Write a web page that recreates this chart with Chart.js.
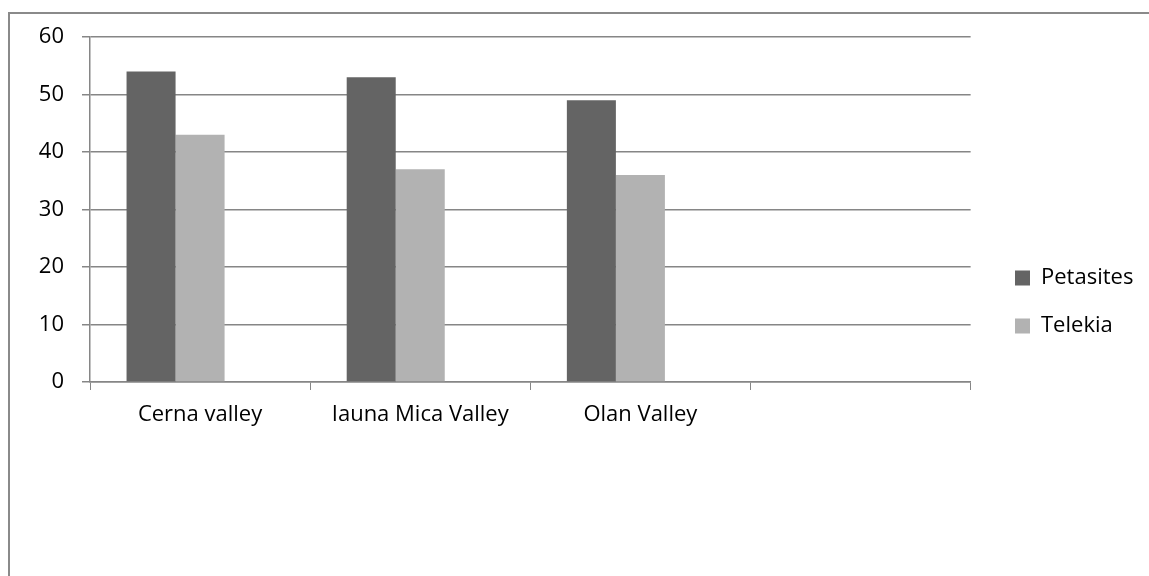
<!DOCTYPE html>
<html>
<head>
<meta charset="utf-8">
<script src="https://cdn.jsdelivr.net/npm/chart.js@4.4.0/dist/chart.umd.min.js"></script>
<style>
  html, body { margin: 0; padding: 0; background: #fff; overflow: hidden; }
  #wrap { position: relative; width: 1149px; height: 600px; }
  #frame { position: absolute; left: 8px; top: 12px; width: 1200px; height: 700px; border: 2px solid #8a8a8a; box-sizing: border-box; }
  canvas { position: absolute; left: 0; top: 0; }
</style>
</head>
<body>
<div id="wrap">
  <div id="frame"></div>
  <canvas id="chart" width="1149" height="600"></canvas>
</div>
<script>
const categories = ['Cerna valley', 'Iauna Mica Valley', 'Olan Valley', ''];
const petasites = [54, 53, 49, null];
const telekia = [43, 37, 36, null];
const emptySeries = [null, null, null, null];
const yTicks = [0, 10, 20, 30, 40, 50, 60];

document.addEventListener('DOMContentLoaded', function() {
    const font = { family: 'Open Sans', size: 22 };
    const gridColor = '#868686';

    // push the legend a little further from the plot, like Excel does
    const legendShift = {
        id: 'legendShift',
        afterLayout(chart) {
            const lg = chart.legend;
            const dx = 1015 - (lg.left + lg.options.labels.padding);
            lg.left += dx;
            lg.right += dx;
            lg.top += 2;
            lg.bottom += 2;
        }
    };

    new Chart(document.getElementById('chart').getContext('2d'), {
        type: 'bar',
        data: {
            labels: categories,
            datasets: [
                { label: 'Petasites', data: petasites, backgroundColor: '#646464' },
                { label: 'Telekia', data: telekia, backgroundColor: '#b2b2b2' },
                { label: '', data: emptySeries, backgroundColor: 'rgba(0,0,0,0)' }
            ]
        },
        options: {
            responsive: false,
            animation: false,
            categoryPercentage: 0.668,
            barPercentage: 1,
            layout: { padding: { top: 37, bottom: 37, left: 0, right: 24 } },
            plugins: {
                tooltip: { enabled: false },
                legend: {
                    position: 'right',
                    labels: {
                        font: font,
                        color: '#000',
                        boxWidth: 15,
                        boxHeight: 15,
                        padding: 26,
                        filter: item => item.text !== ''
                    }
                }
            },
            scales: {
                x: {
                    afterFit: scale => { scale.height = 181; },
                    grid: { drawOnChartArea: false, color: gridColor, tickLength: 8, offset: true },
                    border: { color: gridColor, width: 1.5 },
                    ticks: { font: font, color: '#000', padding: 12 }
                },
                y: {
                    min: 0,
                    max: 60,
                    afterFit: scale => { scale.width = 90; },
                    afterBuildTicks: scale => { scale.ticks = yTicks.map(v => ({ value: v })); },
                    grid: { color: gridColor, lineWidth: 1.5, tickLength: 8 },
                    border: { color: gridColor, width: 1.5 },
                    ticks: { font: font, color: '#000', padding: 18 }
                }
            }
        },
        plugins: [legendShift]
    });
});
</script>
</body>
</html>
